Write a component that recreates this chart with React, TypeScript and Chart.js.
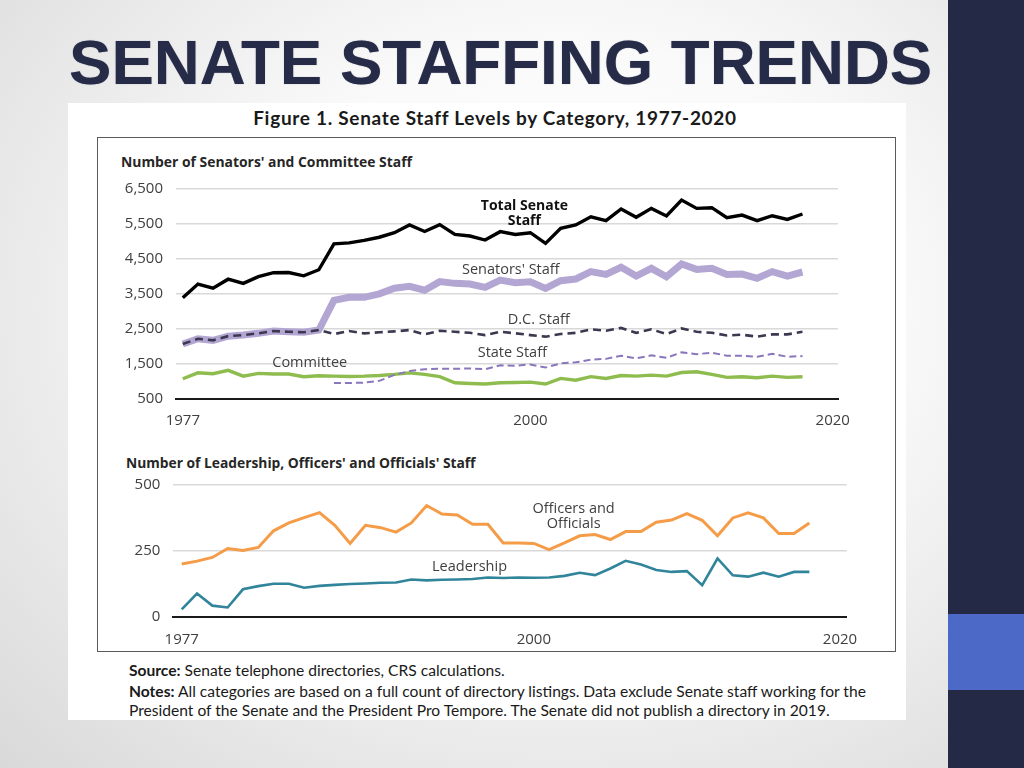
import React, { useEffect, useRef } from "react";
import { Chart, registerables, type ChartDataset, type Plugin } from "chart.js";

Chart.register(...registerables);

// years with a directory (none published in 2019)
const years = [
  1977, 1978, 1979, 1980, 1981, 1982, 1983, 1984, 1985, 1986, 1987, 1988, 1989, 1990,
  1991, 1992, 1993, 1994, 1995, 1996, 1997, 1998, 1999, 2000, 2001, 2002, 2003, 2004,
  2005, 2006, 2007, 2008, 2009, 2010, 2011, 2012, 2013, 2014, 2015, 2016, 2017, 2018,
];
const yearTicks = [1977, 2000, 2020];

const totalStaff = [
  3390, 3780, 3660, 3920, 3800, 3990, 4105, 4110, 4015, 4190, 4930, 4960, 5030, 5120,
  5250, 5470, 5285, 5480, 5200, 5155, 5040, 5280, 5200, 5250, 4945, 5375, 5470, 5705,
  5595, 5930, 5690, 5945, 5730, 6185, 5945, 5965, 5680, 5755, 5595, 5735, 5630, 5785,
];
const senatorsStaff = [
  2065, 2215, 2170, 2290, 2320, 2370, 2435, 2415, 2400, 2465, 3315, 3400, 3400, 3500,
  3660, 3715, 3605, 3850, 3800, 3780, 3685, 3895, 3820, 3845, 3655, 3875, 3925, 4135,
  4055, 4260, 4010, 4230, 3990, 4355, 4200, 4230, 4055, 4065, 3945, 4135, 4010, 4125,
];
const dcStaff = [
  2065, 2215, 2170, 2290, 2320, 2370, 2435, 2415, 2400, 2465, 2350, 2435, 2370, 2400,
  2425, 2465, 2340, 2445, 2415, 2385, 2320, 2415, 2370, 2320, 2275, 2350, 2385, 2485,
  2445, 2525, 2385, 2485, 2350, 2510, 2415, 2385, 2310, 2330, 2275, 2340, 2340, 2415,
];
const stateStaff = [
  null, null, null, null, null, null, null, null, null, null, 950, 950, 960, 1010,
  1180, 1290, 1340, 1360, 1355, 1365, 1345, 1455, 1445, 1480, 1390, 1510, 1540, 1620,
  1640, 1730, 1655, 1740, 1670, 1825, 1775, 1815, 1730, 1730, 1700, 1785, 1700, 1720,
];
const committeeStaff = [
  1070, 1240, 1215, 1310, 1145, 1225, 1205, 1205, 1130, 1155, 1145, 1135, 1145, 1165,
  1195, 1240, 1195, 1130, 955, 935, 920, 955, 965, 975, 920, 1080, 1030, 1130,
  1080, 1165, 1145, 1175, 1145, 1250, 1270, 1195, 1110, 1130, 1100, 1145, 1110, 1130,
];
const staffTicks = { min: 500, max: 6500, step: 1000 };

const officersStaff = [
  200, 211, 225, 259, 251, 263, 326, 356, 376, 395, 347, 278, 347, 338,
  321, 356, 422, 390, 386, 351, 351, 280, 280, 278, 255, 280, 307, 312,
  293, 323, 323, 359, 367, 391, 366, 307, 375, 394, 375, 316, 316, 356,
];
const leadershipStaff = [
  28, 88, 42, 35, 104, 116, 125, 125, 110, 117, 121, 124, 126, 129,
  130, 141, 138, 140, 141, 143, 149, 147, 149, 148, 149, 155, 167, 158,
  183, 212, 198, 177, 170, 173, 120, 221, 157, 152, 167, 152, 170, 170,
];
const leadTicks = { min: 0, max: 500, step: 250 };

type LineLabel = { lines: string[]; year: number; value: number; bold?: boolean };

const topLabels: LineLabel[] = [
  { lines: ["Total Senate", "Staff"], year: 1999.6, value: 5790, bold: true },
  { lines: ["Senators' Staff"], year: 1998.7, value: 4177 },
  { lines: ["D.C. Staff"], year: 2000.55, value: 2769 },
  { lines: ["State Staff"], year: 1998.8, value: 1797 },
  { lines: ["Committee"], year: 1985.4, value: 1511 },
];
const bottomLabels: LineLabel[] = [
  { lines: ["Officers and", "Officials"], year: 2002.6, value: 382 },
  { lines: ["Leadership"], year: 1995.8, value: 188 },
];

const FONT = '"Open Sans", sans-serif';

function series(values: (number | null)[]) {
  return years.map((y, i) => ({ x: y, y: values[i] }));
}

function lineLabels(items: LineLabel[]): Plugin<"line"> {
  return {
    id: "lineLabels",
    afterDatasetsDraw(chart) {
      const { ctx, scales } = chart;
      ctx.save();
      ctx.textAlign = "center";
      ctx.textBaseline = "middle";
      items.forEach((item) => {
        ctx.font = `${item.bold ? "bold 14px" : "14.5px"} ${FONT}`;
        ctx.fillStyle = item.bold ? "#111" : "#404040";
        const x = scales.x.getPixelForValue(item.year);
        const y = scales.y.getPixelForValue(item.value);
        const n = item.lines.length;
        item.lines.forEach((t, i) => ctx.fillText(t, x, y + (i - (n - 1) / 2) * 15));
      });
      ctx.restore();
    },
  };
}

interface TrendChartProps {
  datasets: ChartDataset<"line">[];
  range: { min: number; max: number; step: number };
  xMin: number;
  xMax: number;
  axisWidth: number;
  axisHeight: number;
  padTop: number;
  padRight: number;
  tickPad: number;
  baseline: { dash: number[]; width: number };
  labels: LineLabel[];
}

function TrendChart(props: TrendChartProps) {
  const chartRef = useRef<HTMLCanvasElement | null>(null);
  const chartInstance = useRef<Chart | null>(null);

  useEffect(() => {
    if (!chartRef.current) return;
    if (chartInstance.current) chartInstance.current.destroy();

    const { range } = props;
    chartInstance.current = new Chart(chartRef.current, {
      type: "line",
      data: { datasets: props.datasets },
      options: {
        responsive: true,
        maintainAspectRatio: false,
        animation: false,
        layout: { padding: { top: props.padTop, right: props.padRight, left: 0, bottom: 0 } },
        elements: { point: { radius: 0 }, line: { tension: 0 } },
        plugins: { legend: { display: false }, tooltip: { enabled: false } },
        scales: {
          x: {
            type: "linear",
            min: props.xMin,
            max: props.xMax,
            grid: { display: false },
            border: { display: true, color: "#1a1a1a", width: props.baseline.width, dash: props.baseline.dash },
            afterBuildTicks: (scale) => {
              scale.ticks = yearTicks.map((v) => ({ value: v }));
            },
            afterFit: (scale: any) => {
              scale.height = props.axisHeight;
              scale.paddingLeft = 0;
              scale.paddingRight = 0;
            },
            ticks: {
              autoSkip: false,
              maxRotation: 0,
              padding: props.tickPad,
              color: "#404040",
              font: { family: FONT, size: 15 },
              callback: (v) => String(v),
            },
          },
          y: {
            min: range.min,
            max: range.max,
            border: { display: false },
            grid: {
              drawTicks: false,
              lineWidth: 1.5,
              color: (c) => (c.tick && c.tick.value === range.min ? "rgba(0,0,0,0)" : "#d9d9d9"),
            },
            afterFit: (scale: any) => {
              scale.width = props.axisWidth;
              scale.paddingTop = 0;
              scale.paddingBottom = 0;
            },
            ticks: {
              stepSize: range.step,
              padding: 13,
              color: "#404040",
              font: { family: FONT, size: 15 },
              callback: (v) => Number(v).toLocaleString("en-US"),
            },
          },
        },
      },
      plugins: [lineLabels(props.labels)],
    });

    return () => {
      if (chartInstance.current) {
        chartInstance.current.destroy();
        chartInstance.current = null;
      }
    };
  }, []);

  return <canvas ref={chartRef} style={{ display: "block" }} />;
}

const topDatasets: ChartDataset<"line">[] = [
  { label: "D.C. Staff", data: series(dcStaff) as any, borderColor: "#3b3850", borderWidth: 2.6, borderDash: [8, 5], order: 0 },
  { label: "State Staff", data: series(stateStaff) as any, borderColor: "#8a76bd", borderWidth: 2, borderDash: [7, 4], order: 1 },
  { label: "Total Senate Staff", data: series(totalStaff) as any, borderColor: "#000000", borderWidth: 3.4, order: 2 },
  { label: "Committee", data: series(committeeStaff) as any, borderColor: "#8fbc4f", borderWidth: 3.4, order: 3 },
  { label: "Senators' Staff", data: series(senatorsStaff) as any, borderColor: "#b4a6d3", borderWidth: 7, order: 4 },
];

const bottomDatasets: ChartDataset<"line">[] = [
  { label: "Officers and Officials", data: series(officersStaff) as any, borderColor: "#f59c48", borderWidth: 3 },
  { label: "Leadership", data: series(leadershipStaff) as any, borderColor: "#31859b", borderWidth: 2.6 },
];

const abs = (left: number, top: number, extra: React.CSSProperties = {}): React.CSSProperties => ({
  position: "absolute",
  left,
  top,
  ...extra,
});

const noteStyle: React.CSSProperties = {
  fontFamily: "Lato, sans-serif",
  fontSize: 15.6,
  lineHeight: "19px",
  color: "#1a1a1a",
  whiteSpace: "nowrap",
};

export default function App() {
  return (
    <div
      style={{
        position: "absolute",
        left: 0,
        top: 0,
        width: 1024,
        height: 768,
        overflow: "hidden",
        background: "radial-gradient(ellipse at 55% 40%, #ffffff 0%, #fafafa 40%, #d9d9d9 100%)",
        fontFamily: FONT,
      }}
    >
      <div style={abs(948, 0, { width: 76, height: 768, background: "#242a46" })} />
      <div style={abs(948, 614, { width: 76, height: 76, background: "#4d69c7" })} />

      <div
        style={abs(69, 30, {
          fontFamily: '"Liberation Sans", Arial, sans-serif',
          fontWeight: 700,
          fontSize: 63.6,
          lineHeight: "63px",
          color: "#262b47",
          whiteSpace: "nowrap",
          textShadow: "0 0 1px #8a8da0",
        })}
      >
        SENATE STAFFING TRENDS
      </div>

      <div style={abs(68, 103, { width: 838, height: 617, background: "#ffffff" })} />

      <div
        style={abs(0, 107, {
          width: 990,
          textAlign: "center",
          fontFamily: "Lato, sans-serif",
          fontWeight: 700,
          fontSize: 19,
          letterSpacing: 0.7,
          lineHeight: "22px",
          color: "#1a1a1a",
          whiteSpace: "nowrap",
        })}
      >
        Figure 1. Senate Staff Levels by Category, 1977-2020
      </div>

      <div style={abs(97, 137, { width: 797, height: 513, border: "1.5px solid #5a5a5a" })} />

      <div style={abs(121, 153, { fontWeight: 700, fontSize: 13.9, lineHeight: "18px", color: "#262626", whiteSpace: "nowrap" })}>
        Number of Senators' and Committee Staff
      </div>
      <div style={abs(110, 180, { width: 750, height: 250 })}>
        <TrendChart
          datasets={topDatasets}
          range={staffTicks}
          xMin={1976.55}
          xMax={2020.35}
          axisWidth={66}
          axisHeight={31.3}
          padTop={9}
          padRight={22}
          tickPad={5}
          baseline={{ dash: [7, 5], width: 2 }}
          labels={topLabels}
        />
      </div>

      <div style={abs(126, 454, { fontWeight: 700, fontSize: 13.8, lineHeight: "18px", color: "#262626", whiteSpace: "nowrap" })}>
        Number of Leadership, Officers' and Officials' Staff
      </div>
      <div style={abs(110, 475, { width: 750, height: 175 })}>
        <TrendChart
          datasets={bottomDatasets}
          range={leadTicks}
          xMin={1976.45}
          xMax={2020.44}
          axisWidth={63.3}
          axisHeight={33.3}
          padTop={10}
          padRight={13.3}
          tickPad={6}
          baseline={{ dash: [], width: 2 }}
          labels={bottomLabels}
        />
      </div>

      <div style={{ ...abs(129, 661), ...noteStyle }}>
        <b>Source:</b> Senate telephone directories, CRS calculations.
      </div>
      <div style={{ ...abs(129, 682), ...noteStyle }}>
        <b>Notes:</b> All categories are based on a full count of directory listings. Data exclude Senate staff working for the
        <br />
        President of the Senate and the President Pro Tempore. The Senate did not publish a directory in 2019.
      </div>
    </div>
  );
}
